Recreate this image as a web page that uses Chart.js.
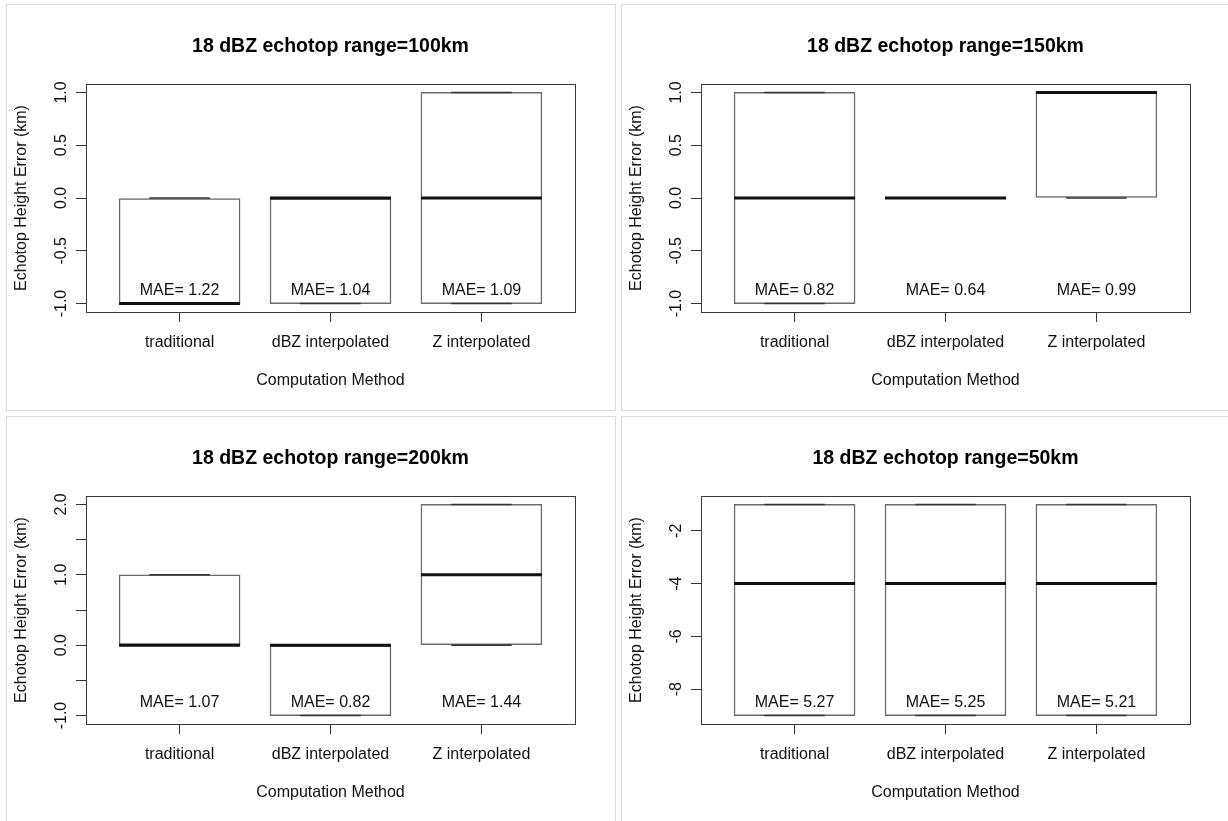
<!DOCTYPE html>
<html lang="en">
<head>
<meta charset="UTF-8">
<script src="https://cdn.jsdelivr.net/npm/chart.js"></script>
<title>18 dBZ echotop height error</title>
<style>
    body { margin: 0; background: #fff; }
    .panel { position: absolute; width: 608px; height: 405px; border: 1px solid #dadada; }
    .panel canvas { display: block; }
</style>
</head>
<body>

<div class="panel" style="left:6px; top:4px;"><canvas id="c100" width="608" height="405"></canvas></div>
<div class="panel" style="left:621px; top:4px;"><canvas id="c150" width="608" height="405"></canvas></div>
<div class="panel" style="left:6px; top:416px;"><canvas id="c200" width="608" height="405"></canvas></div>
<div class="panel" style="left:621px; top:416px;"><canvas id="c50" width="608" height="405"></canvas></div>

<script>
    // categories shared by all panels
    var categories = ['traditional', 'dBZ interpolated', 'Z interpolated'];

    // range = 100 km
    var lower100 = [-1, -1, -1];
    var median100 = [-1, 0, 0];
    var upper100 = [0, 0, 1];
    var mae100 = ['1.22', '1.04', '1.09'];
    var yTicks100 = [-1, -0.5, 0, 0.5, 1];
    var yLabels100 = ['-1.0', '-0.5', '0.0', '0.5', '1.0'];

    // range = 150 km
    var lower150 = [-1, 0, 0];
    var median150 = [0, 0, 1];
    var upper150 = [1, 0, 1];
    var mae150 = ['0.82', '0.64', '0.99'];
    var yTicks150 = [-1, -0.5, 0, 0.5, 1];
    var yLabels150 = ['-1.0', '-0.5', '0.0', '0.5', '1.0'];

    // range = 200 km
    var lower200 = [0, -1, 0];
    var median200 = [0, 0, 1];
    var upper200 = [1, 0, 2];
    var mae200 = ['1.07', '0.82', '1.44'];
    var yTicks200 = [-1, -0.5, 0, 0.5, 1, 1.5, 2];
    var yLabels200 = ['-1.0', '', '0.0', '', '1.0', '', '2.0'];

    // range = 50 km
    var lower50 = [-9, -9, -9];
    var median50 = [-4, -4, -4];
    var upper50 = [-1, -1, -1];
    var mae50 = ['5.27', '5.25', '5.21'];
    var yTicks50 = [-8, -6, -4, -2];
    var yLabels50 = ['-8', '-6', '-4', '-2'];

    var FONT = "'Liberation Sans', Arial, Helvetica, sans-serif";
    var BOX_PX = 121;   // box width in pixels (0.8 of a category slot)

    function points(values) {
        return values.map(function (v, i) { return { x: i + 1, y: v }; });
    }

    // texts, frame and labels drawn with the chart's own scales
    var rPlotText = {
        id: 'rPlotText',
        afterDraw: function (chart, args, opts) {
            var ctx = chart.ctx;
            var a = chart.chartArea;
            var xs = chart.scales.x, ys = chart.scales.y;
            var cx = (a.left + a.right) / 2;
            ctx.save();

            ctx.strokeStyle = '#3a3a3a';
            ctx.lineWidth = 1;
            ctx.strokeRect(Math.round(a.left) + 0.5, Math.round(a.top) + 0.5,
                Math.round(a.right - a.left), Math.round(a.bottom - a.top));

            ctx.fillStyle = '#000';
            ctx.textAlign = 'center';
            ctx.textBaseline = 'alphabetic';

            ctx.font = 'bold 19.5px ' + FONT;
            ctx.fillText(opts.title, cx, a.top - 32.5);

            ctx.font = '16px ' + FONT;
            ctx.fillStyle = '#111';
            opts.yTicks.forEach(function (v, i) {
                if (!opts.yLabels[i]) return;
                ctx.save();
                ctx.translate(a.left - 20, ys.getPixelForValue(v));
                ctx.rotate(-Math.PI / 2);
                ctx.fillText(opts.yLabels[i], 0, 0);
                ctx.restore();
            });

            ctx.save();
            ctx.translate(a.left - 60.5, (a.top + a.bottom) / 2);
            ctx.rotate(-Math.PI / 2);
            ctx.fillText('Echotop Height Error (km)', 0, 0);
            ctx.restore();

            categories.forEach(function (c, i) {
                var px = xs.getPixelForValue(i + 1);
                ctx.fillText(c, px, a.bottom + 35);
                ctx.fillText('MAE= ' + opts.mae[i], px, a.bottom - 16.7);
            });

            ctx.fillText('Computation Method', cx, a.bottom + 73.3);
            ctx.restore();
        }
    };

    function drawPanel(id, title, lower, median, upper, mae, yTicks, yLabels) {
        var lo = Math.min.apply(null, lower), hi = Math.max.apply(null, upper);
        var pad = (hi - lo) * 0.04;

        new Chart(document.getElementById(id).getContext('2d'), {
            type: 'bar',
            data: {
                datasets: [{
                    type: 'line',
                    order: 0,
                    data: points(median),
                    showLine: false,
                    pointStyle: 'line',
                    pointRadius: BOX_PX / 2,
                    pointBorderWidth: 3,
                    pointBorderColor: '#111'
                }, {
                    type: 'line',
                    order: 1,
                    data: points(upper),
                    showLine: false,
                    pointStyle: 'line',
                    pointRadius: BOX_PX / 4,
                    pointBorderWidth: 1.5,
                    pointBorderColor: '#333'
                }, {
                    type: 'line',
                    order: 1,
                    data: points(lower),
                    showLine: false,
                    pointStyle: 'line',
                    pointRadius: BOX_PX / 4,
                    pointBorderWidth: 1.5,
                    pointBorderColor: '#333'
                }, {
                    order: 2,
                    data: lower.map(function (v, i) { return { x: i + 1, y: [v, upper[i]] }; }),
                    backgroundColor: '#fff',
                    borderColor: '#6a6a6a',
                    borderWidth: 1.5,
                    borderSkipped: false,
                    barThickness: BOX_PX
                }]
            },
            options: {
                responsive: false,
                animation: false,
                events: [],
                layout: { autoPadding: false, padding: { left: 0, top: 79, right: 40, bottom: 0 } },
                plugins: {
                    legend: { display: false },
                    tooltip: { enabled: false },
                    rPlotText: { title: title, mae: mae, yTicks: yTicks, yLabels: yLabels }
                },
                scales: {
                    x: {
                        type: 'linear',
                        offset: false,
                        min: 0.38,
                        max: 3.62,
                        afterBuildTicks: function (s) { s.ticks = categories.map(function (c, i) { return { value: i + 1 }; }); },
                        afterFit: function (s) { s.height = 98; },
                        ticks: { display: false },
                        border: { display: false },
                        grid: { offset: false, drawOnChartArea: false, drawTicks: true, tickLength: 10, color: '#333', lineWidth: 1 }
                    },
                    y: {
                        min: lo - pad,
                        max: hi + pad,
                        afterBuildTicks: function (s) { s.ticks = yTicks.map(function (v) { return { value: v }; }); },
                        afterFit: function (s) { s.width = 79; },
                        ticks: { display: false },
                        border: { display: false },
                        grid: { drawOnChartArea: false, drawTicks: true, tickLength: 10, color: '#333', lineWidth: 1 }
                    }
                }
            },
            plugins: [rPlotText]
        });
    }

    drawPanel('c100', '18 dBZ echotop range=100km', lower100, median100, upper100, mae100, yTicks100, yLabels100);
    drawPanel('c150', '18 dBZ echotop range=150km', lower150, median150, upper150, mae150, yTicks150, yLabels150);
    drawPanel('c200', '18 dBZ echotop range=200km', lower200, median200, upper200, mae200, yTicks200, yLabels200);
    drawPanel('c50', '18 dBZ echotop range=50km', lower50, median50, upper50, mae50, yTicks50, yLabels50);
</script>

</body>
</html>
